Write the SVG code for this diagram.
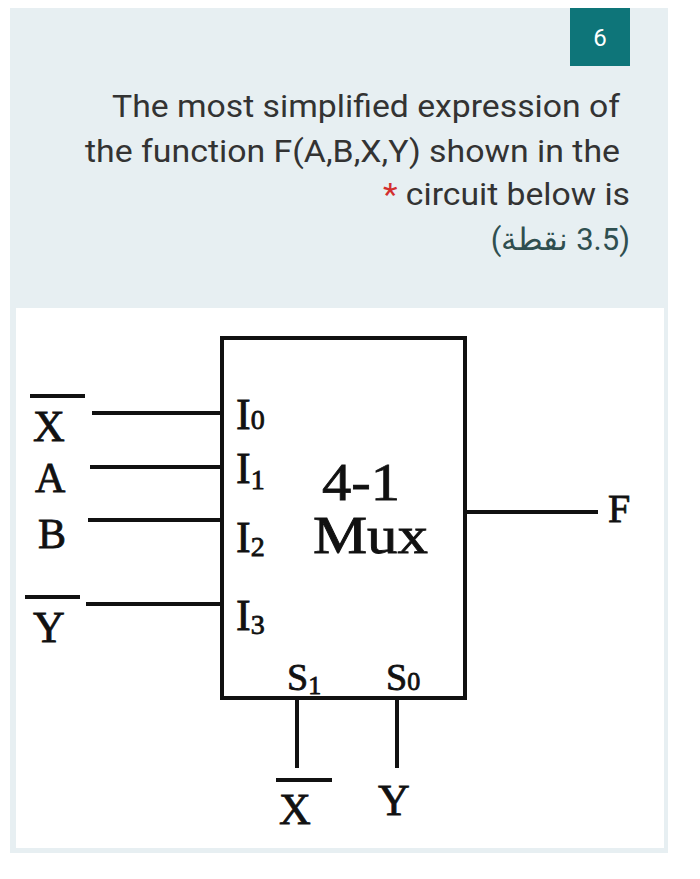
<svg xmlns="http://www.w3.org/2000/svg" width="700" height="879" viewBox="0 0 700 879">
<style>
.h{font-family:Roboto,"Noto Sans",sans-serif;font-size:31px;fill:#333;text-anchor:end}
.s{font-family:"Liberation Serif","DejaVu Serif",serif;fill:#111;stroke:#111;stroke-width:0.8}
.w{stroke:#111;stroke-width:4;fill:none}
</style>
<rect width="700" height="879" fill="#fff"/>
<rect x="10" y="8" width="658" height="845" fill="#e7eff2"/>
<rect x="16" y="308" width="648" height="540" fill="#fff"/>
<g id="badge"><rect x="570" y="8" width="60" height="58" fill="#0e7579"/><text x="600" y="46" font-family="Roboto,sans-serif" font-size="24" fill="#fff" text-anchor="middle">6</text></g>
<g id="question">
<text class="h" x="620" y="117" textLength="508" lengthAdjust="spacingAndGlyphs">The most simplified expression of</text>
<text class="h" x="620" y="162" textLength="535" lengthAdjust="spacingAndGlyphs">the function F(A,B,X,Y) shown in the</text>
<text class="h" x="630" y="205" textLength="247" lengthAdjust="spacingAndGlyphs"><tspan fill="#d32f2f">*</tspan> circuit below is</text>
<text x="630" y="250" direction="rtl" text-anchor="start" font-family="Roboto,'Noto Sans',sans-serif" font-size="31" fill="#2f4f50">(3.5 نقطة)</text>
</g>
<g id="mux">
<rect class="w" x="222" y="338" width="243" height="360" stroke-width="4"/>
<text class="s" x="236" y="429" font-size="44">I<tspan font-size="28">0</tspan></text>
<text class="s" x="236" y="483" font-size="44">I<tspan font-size="28" dy="6">1</tspan></text>
<text class="s" x="236" y="552" font-size="44">I<tspan font-size="28" dy="4">2</tspan></text>
<text class="s" x="236" y="630" font-size="44">I<tspan font-size="28" dy="4">3</tspan></text>
<text class="s" x="322" y="500" font-size="52" textLength="78" lengthAdjust="spacingAndGlyphs">4-1</text>
<text class="s" x="313" y="553" font-size="52" textLength="115" lengthAdjust="spacingAndGlyphs">Mux</text>
<text class="s" x="287" y="690" font-size="38">S<tspan font-size="26" dy="4">1</tspan></text>
<text class="s" x="386" y="690" font-size="38">S<tspan font-size="26">0</tspan></text>
</g>
<g id="labels" font-size="44">
<text class="s" x="33" y="441">X</text><line x1="30" y1="396" x2="85" y2="396" class="w"/>
<text class="s" x="35" y="492" font-size="42">A</text>
<text class="s" x="38" y="548" font-size="42">B</text>
<text class="s" x="33" y="642">Y</text><line x1="25" y1="597" x2="80" y2="597" class="w"/>
<text class="s" x="608" y="522" font-size="40">F</text>
<text class="s" x="279" y="824">X</text><line x1="276" y1="780" x2="332" y2="780" class="w"/>
<text class="s" x="378" y="815">Y</text>
</g>
<g id="connectors" class="w">
<line x1="92" y1="413" x2="220" y2="413"/>
<line x1="90" y1="467" x2="220" y2="467"/>
<line x1="88" y1="520" x2="220" y2="520"/>
<line x1="86" y1="604" x2="220" y2="604"/>
<line x1="467" y1="512" x2="598" y2="512"/>
<line x1="297" y1="698" x2="297" y2="768"/>
<line x1="397" y1="698" x2="397" y2="768"/>
</g>
</svg>
